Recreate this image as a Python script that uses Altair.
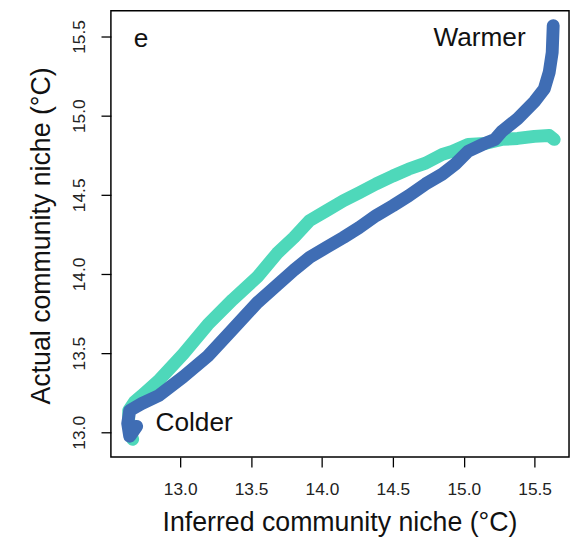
import altair as alt
import pandas as pd

# Teal series (inferred vs actual niche)
teal_x = [12.665, 12.637, 12.637, 12.679, 12.728, 12.846, 13.021, 13.195, 13.370, 13.544,
          13.684, 13.803, 13.914, 14.033, 14.151, 14.263, 14.382, 14.500, 14.612, 14.731,
          14.849, 14.919, 15.031, 15.149, 15.268, 15.380, 15.498, 15.603, 15.638]
teal_y = [12.956, 13.038, 13.138, 13.194, 13.231, 13.325, 13.494, 13.681, 13.838, 13.981,
          14.131, 14.231, 14.338, 14.400, 14.463, 14.513, 14.569, 14.619, 14.663, 14.700,
          14.756, 14.775, 14.819, 14.825, 14.850, 14.856, 14.869, 14.875, 14.850]

# Blue series
blue_x = [12.693, 12.644, 12.630, 12.644, 12.728, 12.846, 13.021, 13.195, 13.370, 13.544,
          13.684, 13.803, 13.914, 14.033, 14.151, 14.263, 14.382, 14.500, 14.612, 14.731,
          14.849, 14.940, 15.031, 15.149, 15.219, 15.268, 15.380, 15.498, 15.568, 15.603,
          15.624, 15.631]
blue_y = [13.038, 12.975, 13.056, 13.138, 13.181, 13.231, 13.350, 13.481, 13.650, 13.819,
          13.931, 14.025, 14.106, 14.169, 14.231, 14.294, 14.369, 14.431, 14.494, 14.569,
          14.631, 14.694, 14.775, 14.825, 14.850, 14.900, 14.981, 15.088, 15.169, 15.275,
          15.400, 15.569]

tick_vals = [13.0, 13.5, 14.0, 14.5, 15.0, 15.5]

labels = ["e", "Warmer", "Colder"]
label_x = [12.672, 14.786, 12.826]
label_y = [15.431, 15.4375, 13.006]

TEAL = "#4ED8BA"
BLUE = "#3F6DB4"
FONT = "Liberation Sans"

W, H = 463, 451
xdom = [12.5115, 15.7425]
ydom = [12.844, 15.6625]

teal_df = pd.DataFrame({"x": teal_x, "y": teal_y, "i": range(len(teal_x))})
blue_df = pd.DataFrame({"x": blue_x, "y": blue_y, "i": range(len(blue_x))})
lab_df = pd.DataFrame({"x": label_x, "y": label_y, "t": labels})

xenc = alt.X("x:Q", scale=alt.Scale(domain=xdom, nice=False, zero=False),
             axis=alt.Axis(values=tick_vals, format=".1f", title="Inferred community niche (°C)",
                           grid=False, domain=False, tickSize=10, tickWidth=1.3, tickColor="black",
                           labelFont=FONT, labelFontSize=17.5, labelColor="#222",
                           labelBaseline="alphabetic", labelPadding=28,
                           titleFont=FONT, titleFontSize=27, titleFontWeight="normal",
                           titleColor="#111", titleBaseline="alphabetic", titleY=74,
                           titleX=W / 2 - 0.5))
yenc = alt.Y("y:Q", scale=alt.Scale(domain=ydom, nice=False, zero=False),
             axis=alt.Axis(values=tick_vals, format=".1f", title="Actual community niche (°C)",
                           grid=False, domain=False, tickSize=10, tickWidth=1.3, tickColor="black",
                           labelFont=FONT, labelFontSize=17.5, labelColor="#222",
                           labelAngle=270, labelAlign="center", labelBaseline="alphabetic",
                           labelPadding=17,
                           titleFont=FONT, titleFontSize=27, titleFontWeight="normal",
                           titleColor="#111", titleAngle=270, titleAlign="center",
                           titleBaseline="alphabetic", titleX=-62, titleY=227))

teal = alt.Chart(teal_df).mark_line(color=TEAL, strokeWidth=13, strokeCap="round",
                                     strokeJoin="round").encode(x=xenc, y=yenc, order="i:Q")
blue = alt.Chart(blue_df).mark_line(color=BLUE, strokeWidth=13, strokeCap="round",
                                     strokeJoin="round").encode(x="x:Q", y="y:Q", order="i:Q")
text = alt.Chart(lab_df).mark_text(font=FONT, fontSize=26.5, align="left", baseline="alphabetic",
                                   color="#111").encode(x="x:Q", y="y:Q", text="t:N")

chart = (teal + blue + text).properties(
    width=W, height=H,
    autosize=alt.AutoSizeParams(type="none"),
    padding={"left": 104, "top": 0, "right": 2, "bottom": 78},
).configure_view(stroke="black", strokeWidth=1.5)

chart.save("out.html", embed_options={"renderer": "svg", "actions": False})
